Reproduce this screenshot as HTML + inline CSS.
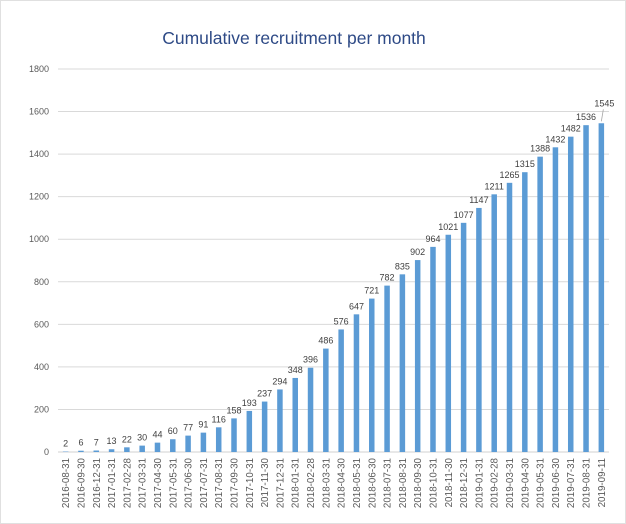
<!DOCTYPE html>
<html><head><meta charset="utf-8">
<style>
html,body{margin:0;padding:0;background:#fff;}
svg{display:block;font-family:"Liberation Sans",Arial,sans-serif;}
</style></head>
<body>
<svg id="chart" width="626" height="524" viewBox="0 0 626 524" xmlns="http://www.w3.org/2000/svg">
<rect x="0.5" y="0.5" width="625" height="523" fill="#fff" stroke="#e0e0e0"/>
<text x="294" y="44" text-anchor="middle" font-size="17.5" fill="#2E4A86">Cumulative recruitment per month</text>
<g id="grid"></g><g id="bars"></g><g id="labels"></g><g id="xlabels"></g><g id="ylabels"></g>
</svg>
<script>
const categories = ["2016-08-31","2016-09-30","2016-12-31","2017-01-31","2017-02-28","2017-03-31","2017-04-30","2017-05-31","2017-06-30","2017-07-31","2017-08-31","2017-09-30","2017-10-31","2017-11-30","2017-12-31","2018-01-31","2018-02-28","2018-03-31","2018-04-30","2018-05-31","2018-06-30","2018-07-31","2018-08-31","2018-09-30","2018-10-31","2018-11-30","2018-12-31","2019-01-31","2019-02-28","2019-03-31","2019-04-30","2019-05-31","2019-06-30","2019-07-31","2019-08-31","2019-09-11"];
const values = [2,6,7,13,22,30,44,60,77,91,116,158,193,237,294,348,396,486,576,647,721,782,835,902,964,1021,1077,1147,1211,1265,1315,1388,1432,1482,1536,1545];
const yTicks = [0,200,400,600,800,1000,1200,1400,1600,1800];

const NS = "http://www.w3.org/2000/svg";
const L = 58, R = 609, Y0 = 452, Y1 = 69, YMAX = 1800;
const step = (R - L) / categories.length;
const bw = 5.5;
function y(v){ return Y0 - (v / YMAX) * (Y0 - Y1); }
function xc(i){ return L + step * (i + 0.5); }
function mk(tag, attrs, parent){ const e = document.createElementNS(NS, tag); for (const k in attrs) e.setAttribute(k, attrs[k]); document.getElementById(parent).appendChild(e); return e; }

yTicks.forEach(t => {
  const g = mk("line", {x1:L, x2:R, y1:y(t), y2:y(t), stroke: t === 0 ? "#d0d0d0" : "#d9d9d9", "stroke-width":1}, "grid");
  
  
  const tx = mk("text", {x:49, y:y(t)+3, "text-anchor":"end", "font-size":9, fill:"#595959"}, "ylabels");
  tx.textContent = t;
  
  
});

values.forEach((v, i) => {
  const b = mk("rect", {x:xc(i)-bw/2, y:y(v), width:bw, height:Y0-y(v), fill:"#5B9BD5"}, "bars");
  
  
  const last = i === values.length - 1;
  const lx = last ? xc(i) + 3 : xc(i);
  const ly = last ? y(v) - 17 : y(v) - 5;
  const t = mk("text", {x:lx, y:ly, "text-anchor":"middle", "font-size":9, fill:"#404040"}, "labels");
  t.textContent = v;
  
  
  if (last) {
    const ln = mk("line", {x1:xc(i), y1:y(v)-2, x2:xc(i)+2, y2:y(v)-14, stroke:"#a6a6a6", "stroke-width":0.8}, "labels");
    
    
  }
  const cx = mk("text", {x:0, y:0, "text-anchor":"end", "font-size":9.8, fill:"#595959", transform:"translate(" + (xc(i)+3.5) + "," + 458 + ") rotate(-90)"}, "xlabels");
  cx.textContent = categories[i];
  
  
});
</script>
</body></html>
